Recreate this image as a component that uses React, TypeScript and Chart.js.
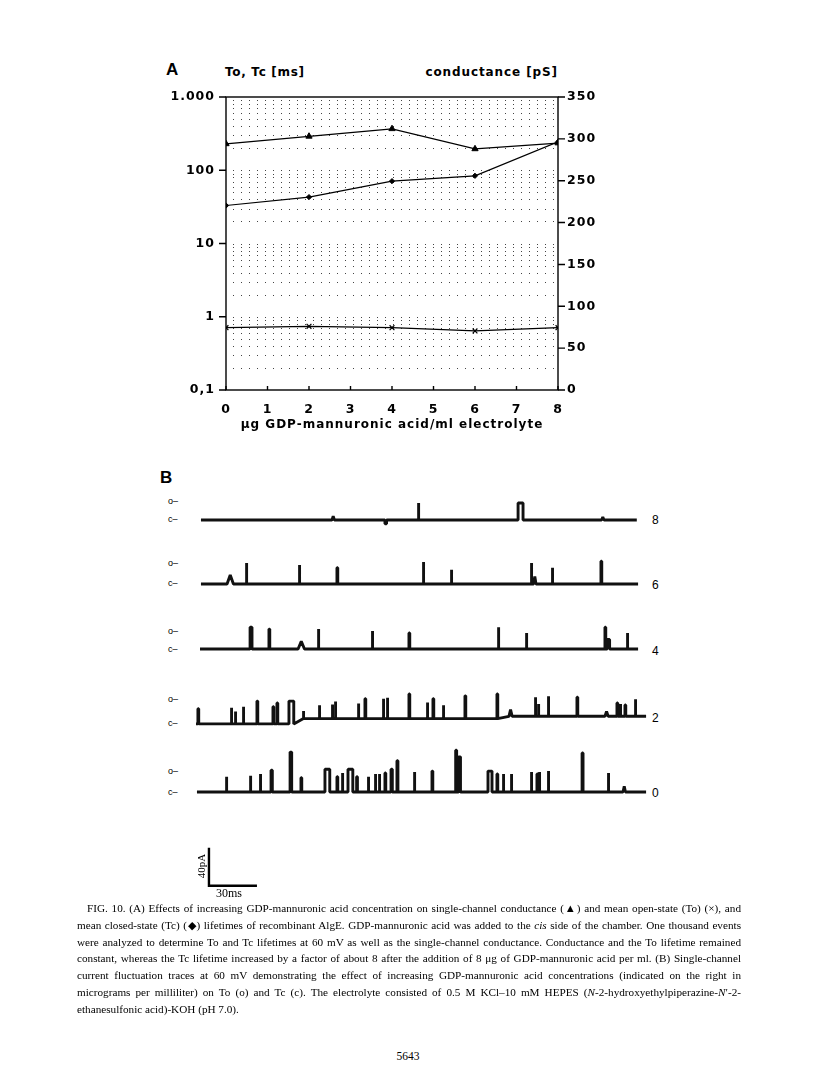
import React, { useEffect, useRef } from "react";
import { Chart, registerables } from "chart.js";
Chart.register(...registerables);

// ---------- Panel A data ----------
const CONCENTRATIONS = [0, 2, 4, 6, 8];
const CONDUCTANCE_PS = [294, 303, 312, 288, 295];
const TC_MS = [33, 43, 71, 84, 244];
const TO_MS = [0.71, 0.74, 0.71, 0.64, 0.71];

const X_TICKS = [0, 1, 2, 3, 4, 5, 6, 7, 8];
const LEFT_TICKS = [0.1, 1, 10, 100, 1000];
const LEFT_TICK_LABELS = ["0,1", "1", "10", "100", "1.000"];
const LEFT_GRID = [
  0.2, 0.3, 0.4, 0.5, 0.6, 0.7, 0.8, 0.9, 1,
  2, 3, 4, 5, 6, 7, 8, 9, 10,
  20, 30, 40, 50, 60, 70, 80, 90, 100,
  200, 300, 400, 500, 600, 700, 800, 900,
];
const RIGHT_TICKS = [0, 50, 100, 150, 200, 250, 300, 350];

const LEFT_TITLE = "To, Tc [ms]";
const RIGHT_TITLE = "conductance [pS]";
const X_TITLE = "\u03bcg GDP-mannuronic acid/ml electrolyte";

// ---------- Panel B data (time ms, amplitude pA, duration ms) ----------
const TRACE_LABELS = ["8", "6", "4", "2", "0"];
const TRACE_SPANS_MS = [
  [0.6, 273],
  [0.6, 273.8],
  [0, 273.8],
  [-2.5, 278.8],
  [-1.9, 278.8],
];
const EVENTS_8 = [
  [82.5, 4, 1.5], [115.6, -4, 1], [136.3, 18, 0.5], [198.8, 18, 3.1], [251, 3, 1.5],
];
const EVENTS_6 = [
  [16.9, 9.5, 4], [28.8, 22, 0.5], [61.9, 20, 0.5], [85.6, 17, 0.5], [139.4, 23, 0.5],
  [156.9, 15, 0.5], [206.9, 22, 0.5], [208.5, 8, 1.5], [220, 17, 0.5], [250.6, 24, 0.5],
];
const EVENTS_4 = [
  [31.3, 23, 1.2], [43.1, 21, 0.5], [61.3, 8, 4], [73.8, 21, 0.5], [107.5, 19, 0.5],
  [130.6, 17, 0.5], [186.3, 23, 0.5], [203.8, 17, 0.5], [253.1, 23, 0.5], [254.5, 10, 1.5],
  [266.9, 17, 0.5],
];
const EVENTS_2 = [
  [-1.3, 16, 0.5], [19.4, 17, 0.5], [21.9, 13, 0.5], [26.9, 18, 0.5], [35.6, 24, 0.5],
  [45.6, 18, 0.5], [48.1, 22, 0.5], [55.6, 24, 3], [64.4, 8, 0.5], [74.4, 14, 0.5],
  [82.5, 15, 0.5], [84.4, 18, 0.5], [98.8, 16, 0.5], [103.1, 21, 0.5], [114.4, 21, 0.5],
  [116.9, 22, 0.5], [130.6, 26, 0.5], [141.9, 17, 0.5], [145.6, 21, 0.5], [151.9, 14, 0.5],
  [165.6, 24, 0.5], [185.6, 26, 0.5], [193.1, 7, 2], [209.4, 20, 0.5], [211.3, 13, 0.5],
  [217.5, 21, 0.5], [235.6, 20, 0.5], [253.1, 5, 2], [260.6, 14, 0.5], [262.5, 13, 0.5],
  [265.6, 12, 0.5], [271.9, 18, 0.5],
];
const EVENTS_0 = [
  [16.3, 16, 0.5], [31.3, 17, 0.5], [37.5, 19, 0.5], [44.4, 23, 0.8], [56.3, 42, 1],
  [63.1, 15, 0.5], [78.1, 24, 3], [85.6, 16, 0.5], [88.8, 20, 0.5], [92.5, 24, 3],
  [97.9, 16, 0.5], [105, 16, 0.5], [109.4, 19, 0.5], [111.9, 19, 0.5], [115.6, 20, 0.5],
  [119.4, 24, 0.8], [123.1, 33, 0.6], [133.8, 21, 0.5], [145, 22, 0.5], [159.8, 44, 0.6],
  [161.6, 37, 1.2], [180, 22, 2.5], [185.6, 19, 0.5], [189.4, 19, 0.5], [194.4, 19, 0.5],
  [206.9, 21, 0.5], [210.6, 19, 0.5], [211.9, 21, 0.5], [217.5, 22, 0.5], [238.8, 41, 0.6],
  [255, 20, 0.5], [264.4, 6, 1.5],
];
const TRACE_EVENTS = [EVENTS_8, EVENTS_6, EVENTS_4, EVENTS_2, EVENTS_0];
// baseline level changes [from ms, pA]
const BASE_LEVELS = [
  [[-10, 0]],
  [[-10, 0]],
  [[-10, 0]],
  [[-10, -2], [59, 3.5], [190, 6]],
  [[-10, 0]],
];
const SCALE_BAR_MS = 30;
const SCALE_BAR_PA = 40;

// ---------- layout constants ----------
const TRACE_OFFSETS_PA = [410.5, 343.2, 274.7, 197.9, 124.2];
const O_LABEL_Y = [502, 564, 632, 700, 772];
const C_LABEL_Y = [520, 584, 650, 724, 793];
const NUM_LABEL_Y = [520, 585, 651, 718, 793];
const SCALE_BAR_ORIGIN = { x: 5.6, y: 25.5 };
const B_X_RANGE = [-6.25, 287.5];
const B_Y_RANGE = [0, 463.16];

const BOLD = { family: "'DejaVu Sans', sans-serif", weight: "bold" as const, size: 12.5 };
const TITLE_FONT = { family: "'DejaVu Sans', sans-serif", weight: "bold" as const, size: 12 };

function buildTrace(i: number) {
  const span = TRACE_SPANS_MS[i];
  const levels = BASE_LEVELS[i];
  const off = TRACE_OFFSETS_PA[i];
  const baseAt = (t: number) => {
    let b = levels[0][1];
    for (const [tf, v] of levels) if (t >= tf) b = v;
    return b + off;
  };
  const pts: { x: number; y: number }[] = [{ x: span[0], y: baseAt(span[0]) }];
  const evs = [...TRACE_EVENTS[i]].sort((a, b) => a[0] - b[0]);
  for (const [t, amp, dur] of evs) {
    const b = baseAt(t);
    if (Math.abs(amp) < 10 && dur >= 1.5) {
      pts.push({ x: t, y: b }, { x: t + dur / 2, y: b + amp }, { x: t + dur, y: b });
    } else {
      pts.push({ x: t, y: b }, { x: t, y: b + amp }, { x: t + dur, y: b + amp }, { x: t + dur, y: b });
    }
  }
  pts.push({ x: span[1], y: baseAt(span[1]) });
  return pts;
}

const panelAPlugin = {
  id: "panelAFrame",
  beforeDraw(chart: any) {
    try {
      (chart.ctx as any).letterSpacing = "1px";
    } catch (e) {}
  },
  beforeDatasetsDraw(chart: any) {
    const { ctx, chartArea: a, scales } = chart;
    const y = scales.y;
    ctx.save();
    ctx.strokeStyle = "#444";
    ctx.lineWidth = 1;
    ctx.setLineDash([1, 7]);
    ctx.lineDashOffset = -6;
    for (const v of LEFT_GRID) {
      const py = Math.round(y.getPixelForValue(v)) + 0.5;
      ctx.beginPath();
      ctx.moveTo(a.left + 1, py);
      ctx.lineTo(a.right - 1, py);
      ctx.stroke();
    }
    ctx.restore();
  },
  afterDatasetsDraw(chart: any) {
    const { ctx, chartArea: a, scales } = chart;
    ctx.save();
    ctx.strokeStyle = "#000";
    ctx.lineWidth = 1.4;
    ctx.setLineDash([]);
    ctx.strokeRect(a.left, a.top, a.right - a.left, a.bottom - a.top);
    ctx.beginPath();
    for (const v of LEFT_TICKS) {
      const py = scales.y.getPixelForValue(v);
      ctx.moveTo(a.left - 7, py);
      ctx.lineTo(a.left, py);
    }
    for (const v of RIGHT_TICKS) {
      const py = scales.y1.getPixelForValue(v);
      ctx.moveTo(a.right, py);
      ctx.lineTo(a.right + 7, py);
    }
    for (const v of X_TICKS) {
      const px = scales.x.getPixelForValue(v);
      ctx.moveTo(px, a.bottom);
      ctx.lineTo(px, a.bottom - 4);
    }
    ctx.stroke();
    ctx.restore();
  },
};

export default function App() {
  const aRef = useRef<HTMLCanvasElement>(null);
  const bRef = useRef<HTMLCanvasElement>(null);

  useEffect(() => {
    const pts = (ys: number[]) => CONCENTRATIONS.map((x, i) => ({ x, y: ys[i] }));
    const chartA = new Chart(aRef.current as HTMLCanvasElement, {
      type: "scatter",
      data: {
        datasets: [
          {
            data: pts(CONDUCTANCE_PS), yAxisID: "y1", showLine: true,
            borderColor: "#000", backgroundColor: "#000", borderWidth: 1.2,
            pointStyle: "triangle", pointRadius: 3.6, pointBorderWidth: 1,
          },
          {
            data: pts(TC_MS), yAxisID: "y", showLine: true,
            borderColor: "#000", backgroundColor: "#000", borderWidth: 1.2,
            pointStyle: "rectRot", pointRadius: 2.6, pointBorderWidth: 1,
          },
          {
            data: pts(TO_MS), yAxisID: "y", showLine: true,
            borderColor: "#000", backgroundColor: "#000", borderWidth: 1.2,
            pointStyle: "crossRot", pointRadius: 3.4, pointBorderWidth: 1.2,
          },
        ],
      },
      options: {
        animation: false,
        responsive: false,
        maintainAspectRatio: false,
        layout: { padding: { top: 47, left: 0, right: 0, bottom: 0 } },
        plugins: { legend: { display: false }, tooltip: { enabled: false } },
        scales: {
          x: {
            type: "linear", min: 0, max: 8,
            afterBuildTicks: (s: any) => { s.ticks = X_TICKS.map((v) => ({ value: v })); },
            afterFit: (s: any) => { s.height = 60; },
            ticks: { font: BOLD, color: "#000", padding: 12, autoSkip: false, maxRotation: 0 },
            grid: { display: false, drawTicks: false },
            border: { display: false },
            title: { display: true, text: X_TITLE, font: TITLE_FONT, color: "#000", padding: { top: 0, bottom: 18 } },
          },
          y: {
            type: "logarithmic", position: "left", min: 0.1, max: 1000,
            afterBuildTicks: (s: any) => { s.ticks = LEFT_TICKS.map((v) => ({ value: v })); },
            afterFit: (s: any) => { s.width = 76; },
            ticks: {
              font: BOLD, color: "#000", padding: 11, autoSkip: false,
              callback: (v: any) => {
                const k = LEFT_TICKS.findIndex((t) => Math.abs(t - Number(v)) < 1e-9);
                return k >= 0 ? LEFT_TICK_LABELS[k] : "";
              },
            },
            grid: { display: false, drawTicks: false },
            border: { display: false },
          },
          y1: {
            type: "linear", position: "right", min: 0, max: 350,
            afterBuildTicks: (s: any) => { s.ticks = RIGHT_TICKS.map((v) => ({ value: v })); },
            afterFit: (s: any) => { s.width = 52; },
            ticks: { font: BOLD, color: "#000", padding: 9, autoSkip: false },
            grid: { display: false, drawTicks: false },
            border: { display: false },
          },
        },
      },
      plugins: [panelAPlugin],
    } as any);

    const traceSets = TRACE_LABELS.map((_, i) => ({
      data: buildTrace(i), showLine: true, borderColor: "#111", borderWidth: 2.9,
      pointRadius: 0, borderJoinStyle: "bevel" as const, tension: 0,
    }));
    const bar = {
      data: [
        { x: SCALE_BAR_ORIGIN.x, y: SCALE_BAR_ORIGIN.y + SCALE_BAR_PA },
        { x: SCALE_BAR_ORIGIN.x, y: SCALE_BAR_ORIGIN.y },
        { x: SCALE_BAR_ORIGIN.x + SCALE_BAR_MS, y: SCALE_BAR_ORIGIN.y },
      ],
      showLine: true, borderColor: "#000", borderWidth: 2.4, pointRadius: 0,
      borderJoinStyle: "miter" as const,
    };
    const chartB = new Chart(bRef.current as HTMLCanvasElement, {
      type: "scatter",
      data: { datasets: [...traceSets, bar] },
      options: {
        animation: false,
        responsive: false,
        maintainAspectRatio: false,
        layout: { padding: 0 },
        plugins: { legend: { display: false }, tooltip: { enabled: false } },
        scales: {
          x: { type: "linear", min: B_X_RANGE[0], max: B_X_RANGE[1], display: false },
          y: { type: "linear", min: B_Y_RANGE[0], max: B_Y_RANGE[1], display: false },
        },
      },
    } as any);

    return () => {
      chartA.destroy();
      chartB.destroy();
    };
  }, []);

  const sans = "'DejaVu Sans', sans-serif";
  const serif = "'Liberation Serif', 'Times New Roman', serif";
  const abs = (left: number, top: number, extra: any = {}) => ({
    position: "absolute" as const, left, top, ...extra,
  });

  const captionLines: React.ReactNode[] = [
    <>FIG. 10. (A) Effects of increasing GDP-mannuronic acid concentration on single-channel conductance (▲) and mean open-state (To) (×), and</>,
    <>mean closed-state (Tc) (◆) lifetimes of recombinant AlgE. GDP-mannuronic acid was added to the <i>cis</i> side of the chamber. One thousand events</>,
    <>were analyzed to determine To and Tc lifetimes at 60 mV as well as the single-channel conductance. Conductance and the To lifetime remained</>,
    <>constant, whereas the Tc lifetime increased by a factor of about 8 after the addition of 8 μg of GDP-mannuronic acid per ml. (B) Single-channel</>,
    <>current fluctuation traces at 60 mV demonstrating the effect of increasing GDP-mannuronic acid concentrations (indicated on the right in</>,
    <>micrograms per milliliter) on To (o) and Tc (c). The electrolyte consisted of 0.5 M KCl–10 mM HEPES (<i>N</i>-2-hydroxyethylpiperazine-<i>N</i>′-2-</>,
    <>ethanesulfonic acid)-KOH (pH 7.0).</>,
  ];

  return (
    <div style={{ position: "absolute", left: 0, top: 0, width: 816, height: 1090, background: "#fff", overflow: "hidden", color: "#000" }}>
      <div style={abs(166, 60, { font: `bold 17px 'Liberation Sans', Arial, sans-serif` })}>A</div>
      <div style={abs(225, 65, { font: `bold 12px ${sans}`, letterSpacing: "0.7px" })}>{LEFT_TITLE}</div>
      <div style={abs(0, 65, { width: 558, textAlign: "right", font: `bold 12px ${sans}`, letterSpacing: "0.9px" })}>{RIGHT_TITLE}</div>
      <canvas ref={aRef} width={460} height={400} style={abs(150, 50, { width: 460, height: 400 })} />

      <div style={abs(160, 468, { font: `bold 17px 'Liberation Sans', Arial, sans-serif` })}>B</div>
      {TRACE_LABELS.map((lab, i) => (
        <React.Fragment key={lab}>
          <div style={abs(168, O_LABEL_Y[i] - 7, { font: `9px 'Liberation Sans', sans-serif`, lineHeight: "12px" })}>o–</div>
          <div style={abs(168, C_LABEL_Y[i] - 7, { font: `9px 'Liberation Sans', sans-serif`, lineHeight: "12px" })}>c–</div>
          <div style={abs(652, NUM_LABEL_Y[i] - 8, { font: `12px 'Liberation Sans', sans-serif`, lineHeight: "16px" })}>{lab}</div>
        </React.Fragment>
      ))}
      <canvas ref={bRef} width={470} height={440} style={abs(190, 470, { width: 470, height: 440 })} />
      <div style={abs(201, 866, { font: `11px ${serif}`, transform: "translate(-50%, -50%) rotate(-90deg)", whiteSpace: "nowrap" })}>40pA</div>
      <div style={abs(216, 886, { font: `12px ${serif}`, lineHeight: "14px" })}>30ms</div>

      <div style={abs(77, 900, { width: 664, font: `11.2px ${serif}`, lineHeight: "16.8px" })}>
        {captionLines.map((ln, i) => (
          <div
            key={i}
            style={{
              whiteSpace: "nowrap",
              textAlign: i === captionLines.length - 1 ? "left" : "justify",
              textAlignLast: i === captionLines.length - 1 ? "left" : "justify",
              paddingLeft: i === 0 ? 10 : 0,
            }}
          >
            {ln}
          </div>
        ))}
      </div>
      <div style={abs(0, 1050, { width: 816, textAlign: "center", font: `11.5px ${serif}` })}>5643</div>
    </div>
  );
}
